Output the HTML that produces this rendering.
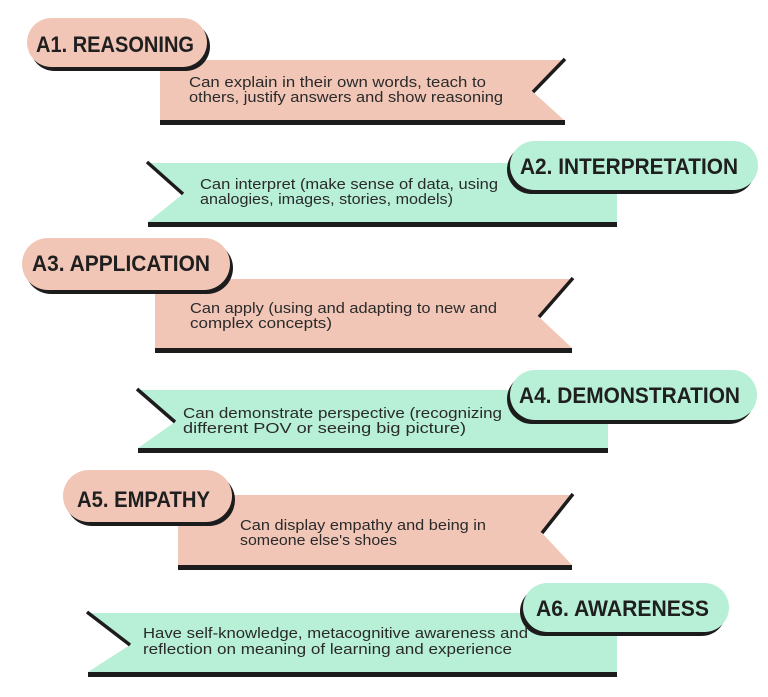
<!DOCTYPE html>
<html>
<head>
<meta charset="utf-8">
<style>
  html, body { margin: 0; padding: 0; background: #ffffff; }
  svg { display: block; }
  .t { font-family: "Liberation Sans", sans-serif; font-weight: bold; font-size: 22px; fill: #1f1f1f; }
  .d { font-family: "Liberation Sans", sans-serif; font-size: 15px; fill: #2a2a2a; }
</style>
</head>
<body>
<svg width="768" height="697" viewBox="0 0 768 697" xmlns="http://www.w3.org/2000/svg">
  <rect x="0" y="0" width="768" height="697" fill="#ffffff"/>

  <!-- A1 -->
  <polygon points="160,60 564,60 533,92 564,120 160,120" fill="#f1c6b7"/>
  <rect x="160" y="120" width="405" height="5" fill="#1c1c1c"/>
  <line x1="533" y1="92" x2="565" y2="59" stroke="#1c1c1c" stroke-width="3.5"/>
  <rect x="30" y="22" width="180" height="49" rx="24.5" fill="#1c1c1c"/>
  <rect x="27" y="18" width="180" height="49" rx="24.5" fill="#f1c6b7"/>
  <text class="t" x="36" y="52" textLength="158" lengthAdjust="spacingAndGlyphs">A1. REASONING</text>
  <text class="d" x="189" y="87" textLength="297" lengthAdjust="spacingAndGlyphs">Can explain in their own words, teach to</text>
  <text class="d" x="189" y="102" textLength="314" lengthAdjust="spacingAndGlyphs">others, justify answers and show reasoning</text>

  <!-- A2 -->
  <polygon points="148,163 617,163 617,222 148,222 183,194" fill="#b7efd7"/>
  <rect x="148" y="222" width="469" height="5" fill="#1c1c1c"/>
  <line x1="147" y1="162" x2="183" y2="194" stroke="#1c1c1c" stroke-width="3.5"/>
  <rect x="507" y="145" width="248" height="49" rx="24.5" fill="#1c1c1c"/>
  <rect x="510" y="141" width="248" height="49" rx="24.5" fill="#b7efd7"/>
  <text class="t" x="520" y="174" textLength="218" lengthAdjust="spacingAndGlyphs">A2.  INTERPRETATION</text>
  <text class="d" x="200" y="189" textLength="298" lengthAdjust="spacingAndGlyphs">Can interpret (make sense of data, using</text>
  <text class="d" x="200" y="204" textLength="253" lengthAdjust="spacingAndGlyphs">analogies, images, stories, models)</text>

  <!-- A3 -->
  <polygon points="155,279 572,279 539,317 572,348 155,348" fill="#f1c6b7"/>
  <rect x="155" y="348" width="417" height="5" fill="#1c1c1c"/>
  <line x1="539" y1="317" x2="573" y2="278" stroke="#1c1c1c" stroke-width="3.5"/>
  <rect x="25" y="242" width="208" height="52" rx="26" fill="#1c1c1c"/>
  <rect x="22" y="238" width="208" height="52" rx="26" fill="#f1c6b7"/>
  <text class="t" x="32" y="271" textLength="178" lengthAdjust="spacingAndGlyphs">A3.  APPLICATION</text>
  <text class="d" x="190" y="313" textLength="307" lengthAdjust="spacingAndGlyphs">Can apply (using and adapting to new and</text>
  <text class="d" x="190" y="328" textLength="142" lengthAdjust="spacingAndGlyphs">complex concepts)</text>

  <!-- A4 -->
  <polygon points="138,390 608,390 608,448 138,448 175,422" fill="#b7efd7"/>
  <rect x="138" y="448" width="470" height="5" fill="#1c1c1c"/>
  <line x1="137" y1="389" x2="175" y2="422" stroke="#1c1c1c" stroke-width="3.5"/>
  <rect x="507" y="374" width="247" height="50" rx="25" fill="#1c1c1c"/>
  <rect x="510" y="370" width="247" height="50" rx="25" fill="#b7efd7"/>
  <text class="t" x="519" y="403" textLength="221" lengthAdjust="spacingAndGlyphs">A4. DEMONSTRATION</text>
  <text class="d" x="183" y="418" textLength="319" lengthAdjust="spacingAndGlyphs">Can demonstrate perspective (recognizing</text>
  <text class="d" x="183" y="433" textLength="283" lengthAdjust="spacingAndGlyphs">different POV or seeing big picture)</text>

  <!-- A5 -->
  <polygon points="178,495 572,495 542,533 572,565 178,565" fill="#f1c6b7"/>
  <rect x="178" y="565" width="394" height="5" fill="#1c1c1c"/>
  <line x1="542" y1="533" x2="573" y2="494" stroke="#1c1c1c" stroke-width="3.5"/>
  <rect x="66" y="474" width="169" height="52" rx="26" fill="#1c1c1c"/>
  <rect x="63" y="470" width="169" height="52" rx="26" fill="#f1c6b7"/>
  <text class="t" x="77" y="507" textLength="133" lengthAdjust="spacingAndGlyphs">A5. EMPATHY</text>
  <text class="d" x="240" y="530" textLength="246" lengthAdjust="spacingAndGlyphs">Can display empathy and being in</text>
  <text class="d" x="240" y="545" textLength="157" lengthAdjust="spacingAndGlyphs">someone else's shoes</text>

  <!-- A6 -->
  <polygon points="88,613 617,613 617,672 88,672 130,645" fill="#b7efd7"/>
  <rect x="88" y="672" width="529" height="5" fill="#1c1c1c"/>
  <line x1="87" y1="612" x2="130" y2="645" stroke="#1c1c1c" stroke-width="3.5"/>
  <rect x="520" y="587" width="206" height="49" rx="24.5" fill="#1c1c1c"/>
  <rect x="523" y="583" width="206" height="49" rx="24.5" fill="#b7efd7"/>
  <text class="t" x="536" y="616" textLength="173" lengthAdjust="spacingAndGlyphs">A6.  AWARENESS</text>
  <text class="d" x="143" y="638" textLength="385" lengthAdjust="spacingAndGlyphs">Have self-knowledge, metacognitive awareness and</text>
  <text class="d" x="143" y="654" textLength="369" lengthAdjust="spacingAndGlyphs">reflection on meaning of learning and experience</text>
</svg>
</body>
</html>
